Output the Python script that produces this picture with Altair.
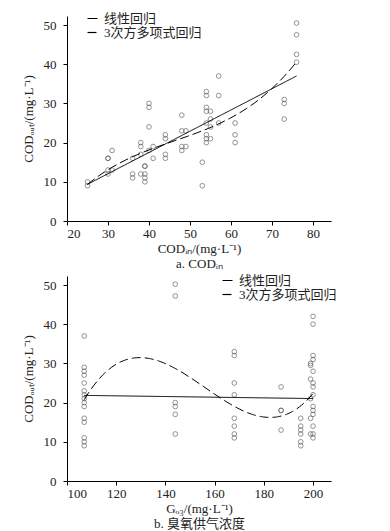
import altair as alt
import pandas as pd

# ---- Panel a: COD_in vs COD_out ----
cod_in = [25, 25,
          30, 30, 30, 30,
          31, 31,
          36, 36, 36,
          38, 38, 38, 38,
          39, 39, 39, 39, 39,
          40, 40, 40, 40,
          41, 41,
          44, 44, 44, 44,
          48, 48, 48, 48,
          49, 49,
          53, 53,
          54, 54, 54, 54, 54, 54, 54, 54,
          55, 55, 55, 55,
          57, 57, 57,
          61, 61, 61,
          73, 73, 73,
          76, 76, 76, 76]
cod_out_a = [10, 9,
             16, 16, 13, 12,
             18, 13,
             16, 12, 11,
             20, 19, 17, 12,
             14, 14, 12, 11, 10,
             30, 29, 24, 18,
             19, 16,
             22, 21, 17, 16,
             27, 23, 19, 18,
             23, 19,
             15, 9,
             33, 32, 29, 28, 25, 22, 21, 20,
             28, 26, 24, 21,
             37, 32, 25,
             25, 22, 20,
             31, 30, 26,
             50.5, 47.5, 42.5, 40.5]

# ---- Panel b: ozone supply concentration vs COD_out ----
g_o3 = [107] * 15 + [144] * 6 + [168] * 8 + [187] * 4 + [195] * 6 + \
       [200] * 14 + [199] * 6
cod_out_b = [37, 29, 28, 27, 25, 23, 22, 21, 20, 19, 16, 15, 11, 10, 9,
             50.2, 47.2, 20, 19, 17, 12,
             33, 32, 25, 22, 16, 14, 12, 11,
             24, 18, 18, 13,
             16, 14, 13, 12, 10, 9,
             42, 40, 32, 31, 28, 25, 24, 22, 19, 18, 17, 14, 12, 11,
             30, 29.5, 26, 21, 16, 12]

series = ["线性回归", "3次方多项式回归"]
x_ticks_a = [20, 30, 40, 50, 60, 70, 80]
x_ticks_b = [100, 120, 140, 160, 180, 200]
y_ticks = [0, 10, 20, 30, 40, 50]

SERIF = "Liberation Serif, 'Noto Sans CJK SC'"

df_a = pd.DataFrame({"x": cod_in, "y": cod_out_a})
df_b = pd.DataFrame({"x": g_o3, "y": cod_out_b})

dash_scale = alt.Scale(domain=series, range=[[1, 0], [9, 4]])


def panel(df, xdom, xticks, xtitle, legx, legy):
    xs = alt.Scale(domain=xdom, nice=False, zero=False)
    ys = alt.Scale(domain=[0, 52.3], nice=False)
    xax = alt.Axis(values=xticks, title=xtitle, grid=False, tickSize=4,
                   labelFontSize=13, titleFontSize=13, titleFontWeight="normal",
                   labelFont=SERIF, titleFont=SERIF, titleLineHeight=15,
                   labelPadding=2, titlePadding=2, domainColor="black",
                   tickColor="black", labelColor="#222", titleColor="#222")
    yax = alt.Axis(values=y_ticks, title="CODₒᵤₜ/(mg·L⁻¹)", grid=False,
                   tickSize=4, labelFontSize=13, titleFontSize=13,
                   titleFontWeight="normal", labelFont=SERIF, titleFont=SERIF,
                   labelPadding=7, titlePadding=8, domainColor="black",
                   tickColor="black", labelColor="#222", titleColor="#222")
    base = alt.Chart(df)
    pts = base.mark_point(shape="circle", filled=False, size=22,
                          strokeWidth=0.9, color="#555").encode(
        x=alt.X("x:Q", scale=xs, axis=xax),
        y=alt.Y("y:Q", scale=ys, axis=yax),
    )
    leg = alt.Legend(title=None, orient="none", legendX=legx, legendY=legy,
                     symbolType="stroke", symbolSize=100, symbolStrokeWidth=1.2,
                     symbolStrokeColor="black", labelFont=SERIF,
                     labelFontSize=13, labelColor="#222", rowPadding=0,
                     symbolOffset=0, labelOffset=5, padding=0)
    lin = base.transform_regression("x", "y", method="linear").transform_calculate(
        s="'线性回归'").mark_line(color="black", strokeWidth=1).encode(
        x=alt.X("x:Q", scale=xs),
        y=alt.Y("y:Q", scale=ys),
        strokeDash=alt.StrokeDash("s:N", scale=dash_scale, legend=leg),
    )
    poly = base.transform_regression("x", "y", method="poly", order=3).transform_calculate(
        s="'3次方多项式回归'").mark_line(color="black", strokeWidth=1).encode(
        x=alt.X("x:Q", scale=xs),
        y=alt.Y("y:Q", scale=ys),
        strokeDash=alt.StrokeDash("s:N", scale=dash_scale, legend=leg),
    )
    return alt.layer(pts, lin, poly).properties(width=264, height=205)


top = panel(df_a, [20, 84.4], x_ticks_a, ["CODᵢₙ/(mg·L⁻¹)", "a. CODᵢₙ"], 19, -4)
bottom = panel(df_b, [100, 207.3], x_ticks_b, ["Gₒ₃/(mg·L⁻¹)", "b. 臭氧供气浓度"], 154, -2)

chart = alt.vconcat(top, bottom, spacing=4).resolve_scale(
    strokeDash="independent").resolve_legend(strokeDash="independent"
).configure_view(stroke=None).properties(
    padding={"left": 14, "top": 4, "right": 5, "bottom": 0},
    background="white")

chart.save("out.html", embed_options={"renderer": "svg", "actions": False})
